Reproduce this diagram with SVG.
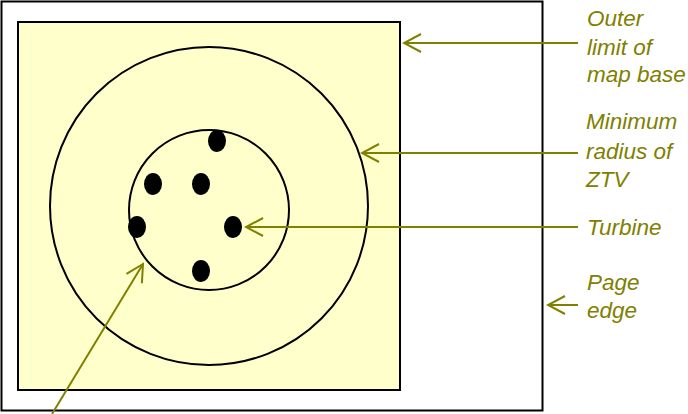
<svg xmlns="http://www.w3.org/2000/svg" width="688" height="414" viewBox="0 0 688 414">
<defs>
<style>
.lbl{font-family:"Liberation Sans",Arial,sans-serif;font-style:italic;font-size:22.5px;fill:#808000}
.ptr{stroke:#808000;stroke-width:2;fill:none;marker-end:url(#ah)}
.bk{stroke:#000;stroke-width:2;fill:none}
.t{fill:#000}
</style>
<marker id="ah" markerUnits="userSpaceOnUse" viewBox="-20 -11 22 22" markerWidth="22" markerHeight="22" refX="0" refY="0" orient="auto">
<path d="M-17,-9 L0,0 L-17,9" fill="none" stroke="#808000" stroke-width="2"/>
</marker>
</defs>
<g id="page-edge"><rect x="1.5" y="1.5" width="541" height="409" class="bk"/></g>
<g id="map-base"><rect x="18" y="22" width="382" height="368" fill="#ffffcc" stroke="#000" stroke-width="2"/></g>
<g id="outer-circle"><circle cx="209" cy="206" r="159" class="bk" stroke-width="1.8"/></g>
<g id="ztv-circle"><circle cx="209" cy="210" r="80" class="bk" stroke-width="1.8"/></g>
<g id="turbines">
<ellipse class="t" cx="217" cy="141" rx="9" ry="11"/>
<ellipse class="t" cx="153" cy="184" rx="9" ry="11"/>
<ellipse class="t" cx="201" cy="184" rx="9" ry="11"/>
<ellipse class="t" cx="137" cy="227" rx="9" ry="11"/>
<ellipse class="t" cx="233" cy="227" rx="9" ry="11"/>
<ellipse class="t" cx="201" cy="271" rx="9" ry="11"/>
</g>
<g id="connectors">
<line class="ptr" x1="578" y1="43" x2="404" y2="43"/>
<line class="ptr" x1="578" y1="153" x2="362" y2="153"/>
<line class="ptr" x1="578" y1="227" x2="246" y2="227"/>
<line class="ptr" x1="578" y1="305" x2="548" y2="305"/>
<line class="ptr" x1="52" y1="414" x2="143" y2="264"/>
</g>
<g id="label-outer"><text class="lbl" x="587" y="26">Outer</text><text class="lbl" x="587" y="55">limit of</text><text class="lbl" x="587" y="82">map base</text></g>
<g id="label-min"><text class="lbl" x="586" y="129">Minimum</text><text class="lbl" x="586" y="159">radius of</text><text class="lbl" x="586" y="187">ZTV</text></g>
<g id="label-turbine"><text class="lbl" x="587" y="235">Turbine</text></g>
<g id="label-page"><text class="lbl" x="587" y="290">Page</text><text class="lbl" x="587" y="318">edge</text></g>
</svg>
